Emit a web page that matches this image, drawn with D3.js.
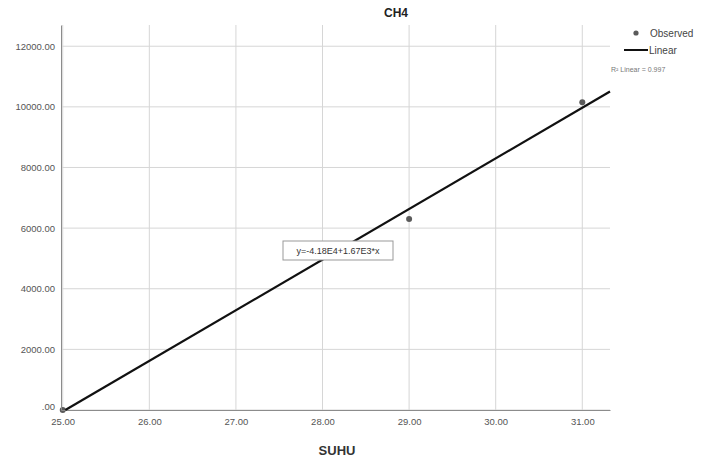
<!DOCTYPE html>
<html>
<head>
<meta charset="utf-8">
<script src="https://cdn.jsdelivr.net/npm/d3@7"></script>
<style>
  body { margin: 0; background: #fff; }
  svg text { font-family: "Liberation Sans", Arial, sans-serif; }
</style>
</head>
<body>
<svg id="chart" width="702" height="461"></svg>
<script>
// observed values (SUHU vs CH4)
var suhu = [25, 29, 31];
var ch4 = [0, 6300, 10150];
var xTicks = [25, 26, 27, 28, 29, 30, 31];
var yTicks = [0, 2000, 4000, 6000, 8000, 10000, 12000];
// linear fit as printed on the chart
var fitIntercept = -41800;
var fitSlope = 1670;
var rSquared = "0.997";

var svg = d3.select("#chart");

var x = d3.scaleLinear().domain([24.98, 31.32]).range([61, 610]);
var y = d3.scaleLinear().domain([0, 12700]).range([410, 25]);

// grid
svg.append("g").selectAll("line").data(xTicks).enter().append("line")
  .attr("x1", function(d) { return x(d); }).attr("x2", function(d) { return x(d); })
  .attr("y1", y(12700)).attr("y2", y(0))
  .attr("stroke", "#d6d6d6").attr("stroke-width", 1);
svg.append("g").selectAll("line").data(yTicks).enter().append("line")
  .attr("x1", x(24.98)).attr("x2", x(31.32))
  .attr("y1", function(d) { return y(d); }).attr("y2", function(d) { return y(d); })
  .attr("stroke", "#d6d6d6").attr("stroke-width", 1);

// points (drawn under the axes and fit line)
svg.append("g").selectAll("circle").data(suhu).enter().append("circle")
  .attr("cx", function(d) { return x(d); })
  .attr("cy", function(d, i) { return y(ch4[i]); })
  .attr("r", 3).attr("fill", "#5a5a5a");

// axes
var xAxis = svg.append("g").attr("transform", "translate(0," + y(0) + ")")
  .call(d3.axisBottom(x).tickValues(xTicks).tickSize(0).tickPadding(8)
    .tickFormat(function(d) { return d.toFixed(2); }));
var yAxis = svg.append("g").attr("transform", "translate(" + x(24.98) + ",0)")
  .call(d3.axisLeft(y).tickValues(yTicks).tickSize(0).tickPadding(6)
    .tickFormat(function(d) { return d === 0 ? ".00" : d.toFixed(2); }));
[xAxis, yAxis].forEach(function(a) {
  a.select(".domain").attr("stroke", "#8c8c8c");
  a.selectAll("text").attr("fill", "#555").attr("font-size", "9.5px")
    .attr("font-family", "Liberation Sans, Arial, sans-serif");
});
yAxis.selectAll(".tick").filter(function(d) { return d === 0; })
  .select("text").attr("dy", "-0.1em");

// fit line
var x0 = -fitIntercept / fitSlope;
var x1 = 31.32;
svg.append("line")
  .attr("x1", x(x0)).attr("y1", y(fitIntercept + fitSlope * x0))
  .attr("x2", x(x1)).attr("y2", y(fitIntercept + fitSlope * x1))
  .attr("stroke", "#111").attr("stroke-width", 2.2);

// equation label
svg.append("rect").attr("x", 283).attr("y", 241).attr("width", 110).attr("height", 19)
  .attr("fill", "#fff").attr("stroke", "#999");
svg.append("text").attr("x", 338).attr("y", 254).attr("text-anchor", "middle")
  .attr("font-size", "9px").attr("fill", "#333").text("y=-4.18E4+1.67E3*x");

// titles
svg.append("text").attr("x", 396).attr("y", 17).attr("text-anchor", "middle")
  .attr("font-size", "12px").attr("font-weight", "bold").attr("fill", "#222").text("CH4");
svg.append("text").attr("x", 337).attr("y", 455).attr("text-anchor", "middle")
  .attr("font-size", "13px").attr("font-weight", "bold").attr("fill", "#333").text("SUHU");

// legend
var legend = svg.append("g");
legend.append("circle").attr("cx", 636).attr("cy", 33).attr("r", 2.6).attr("fill", "#5a5a5a");
legend.append("text").attr("x", 650).attr("y", 37).attr("font-size", "10px").attr("fill", "#444").text("Observed");
legend.append("line").attr("x1", 624).attr("x2", 648).attr("y1", 50).attr("y2", 50)
  .attr("stroke", "#111").attr("stroke-width", 2);
legend.append("text").attr("x", 649).attr("y", 54).attr("font-size", "10px").attr("fill", "#444").text("Linear");
legend.append("text").attr("x", 611).attr("y", 72).attr("font-size", "7px").attr("fill", "#777")
  .text("R\u00b2 Linear = " + rSquared);
</script>
</body>
</html>
